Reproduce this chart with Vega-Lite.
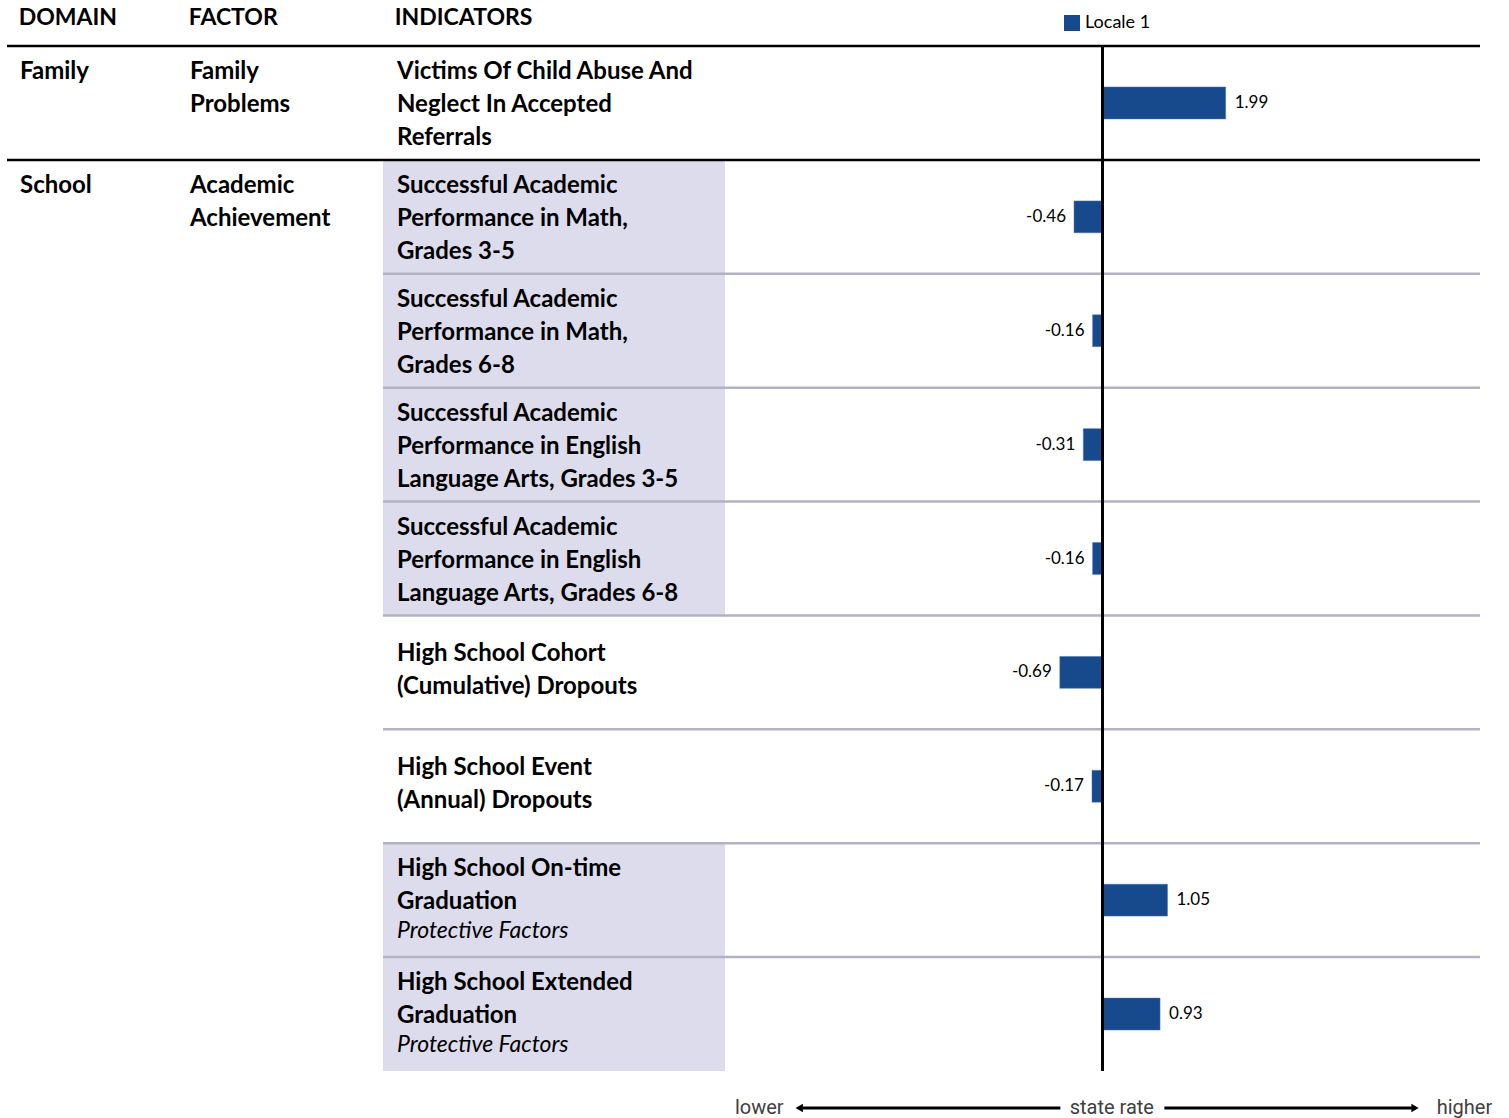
{
  "$schema": "https://vega.github.io/schema/vega-lite/v6.json",
  "padding": {"left": 5, "top": 6, "right": 0, "bottom": 0},
  "bounds": "flush",
  "config": {
    "view": {"stroke": null},
    "font": "Lato",
    "locale": {"number": {"decimal": ".", "thousands": ",", "grouping": [3], "currency": ["$", ""], "minus": "-"}},
    "title": {"fontSize": 23, "fontWeight": "bold", "font": "Lato", "anchor": "start", "color": "black", "baseline": "alphabetic", "offset": 15, "dx": 13}
  },
  "datasets": {
    "rows": [
      {"row": 1, "domain": "Family", "factor": "Family Problems", "indicator": ["Victims Of Child Abuse And", "Neglect In Accepted", "Referrals"], "note": null, "shade": false, "first": true, "value": 1.99, "series": "Locale 1"},
      {"row": 2, "domain": "School", "factor": "Academic Achievement", "indicator": ["Successful Academic", "Performance in Math,", "Grades 3-5"], "note": null, "shade": true, "first": true, "value": -0.46, "series": "Locale 1"},
      {"row": 3, "domain": "School", "factor": "Academic Achievement", "indicator": ["Successful Academic", "Performance in Math,", "Grades 6-8"], "note": null, "shade": true, "first": false, "value": -0.16, "series": "Locale 1"},
      {"row": 4, "domain": "School", "factor": "Academic Achievement", "indicator": ["Successful Academic", "Performance in English", "Language Arts, Grades 3-5"], "note": null, "shade": true, "first": false, "value": -0.31, "series": "Locale 1"},
      {"row": 5, "domain": "School", "factor": "Academic Achievement", "indicator": ["Successful Academic", "Performance in English", "Language Arts, Grades 6-8"], "note": null, "shade": true, "first": false, "value": -0.16, "series": "Locale 1"},
      {"row": 6, "domain": "School", "factor": "Academic Achievement", "indicator": ["High School Cohort", "(Cumulative) Dropouts"], "note": null, "shade": false, "first": false, "value": -0.69, "series": "Locale 1"},
      {"row": 7, "domain": "School", "factor": "Academic Achievement", "indicator": ["High School Event", "(Annual) Dropouts"], "note": null, "shade": false, "first": false, "value": -0.17, "series": "Locale 1"},
      {"row": 8, "domain": "School", "factor": "Academic Achievement", "indicator": ["High School On-time", "Graduation"], "note": "Protective Factors", "shade": true, "first": false, "value": 1.05, "series": "Locale 1"},
      {"row": 9, "domain": "School", "factor": "Academic Achievement", "indicator": ["High School Extended", "Graduation"], "note": "Protective Factors", "shade": true, "first": false, "value": 0.93, "series": "Locale 1"}
    ]
  },
  "spacing": 0,
  "hconcat": [
    {
      "width": 170, "height": 1025,
      "title": {"text": "DOMAIN"},
      "data": {"name": "rows"},
      "transform": [{"filter": "datum.first"}],
      "encoding": {
        "y": {"field": "row", "type": "ordinal", "axis": null, "bandPosition": 0, "scale": {"type": "band", "domain": [1,2,3,4,5,6,7,8,9], "paddingInner": 0, "paddingOuter": 0}},
        "x": {"datum": "col", "type": "nominal", "axis": null, "bandPosition": 0, "scale": {"type": "band", "paddingInner": 0, "paddingOuter": 0}}
      },
      "layer": [
        {"mark": {"type": "rule", "color": "black", "strokeWidth": 2.5}, "encoding": {"x": null}},
        {"mark": {"type": "text", "align": "left", "baseline": "middle", "dx": 13, "dy": 26, "fontSize": 24, "fontWeight": "bold", "lineHeight": 33, "color": "black"},
         "encoding": {"text": {"field": "domain"}}}
      ]
    },
    {
      "width": 206, "height": 1025,
      "title": {"text": "FACTOR"},
      "data": {"name": "rows"},
      "transform": [{"filter": "datum.first"}],
      "encoding": {
        "y": {"field": "row", "type": "ordinal", "axis": null, "bandPosition": 0, "scale": {"type": "band", "domain": [1,2,3,4,5,6,7,8,9], "paddingInner": 0, "paddingOuter": 0}},
        "x": {"datum": "col", "type": "nominal", "axis": null, "bandPosition": 0, "scale": {"type": "band", "paddingInner": 0, "paddingOuter": 0}}
      },
      "layer": [
        {"mark": {"type": "rule", "color": "black", "strokeWidth": 2.5}, "encoding": {"x": null}},
        {"mark": {"type": "text", "align": "left", "baseline": "middle", "dx": 13, "dy": 26, "fontSize": 24, "fontWeight": "bold", "lineHeight": 33, "lineBreak": " ", "color": "black"},
         "encoding": {"text": {"field": "factor"}}}
      ]
    },
    {
      "width": 342, "height": 1025,
      "title": {"text": "INDICATORS"},
      "data": {"name": "rows"},
      "encoding": {
        "y": {"field": "row", "type": "ordinal", "axis": null, "scale": {"type": "band", "domain": [1,2,3,4,5,6,7,8,9], "paddingInner": 0, "paddingOuter": 0}}
      },
      "layer": [
        {"transform": [{"filter": "datum.shade"}], "mark": {"type": "rect", "color": "#dddcec"}},
        {"mark": {"type": "rule", "strokeWidth": 2.5},
         "encoding": {
           "y": {"field": "row", "type": "ordinal", "bandPosition": 0},
           "color": {"condition": {"test": "datum.first", "value": "black"}, "value": "#b3b2c2"}
         }},
        {"transform": [{"filter": "length(datum.indicator) == 3 || datum.note"}],
         "mark": {"type": "text", "align": "left", "baseline": "middle", "dx": 14, "dy": -31, "fontSize": 24, "fontWeight": "bold", "lineHeight": 33, "color": "black"},
         "encoding": {
           "x": {"datum": "col", "type": "nominal", "axis": null, "bandPosition": 0, "scale": {"type": "band", "paddingInner": 0, "paddingOuter": 0}},
           "text": {"field": "indicator"}
         }},
        {"transform": [{"filter": "length(datum.indicator) == 2 && !datum.note"}],
         "mark": {"type": "text", "align": "left", "baseline": "middle", "dx": 14, "dy": -18.5, "fontSize": 24, "fontWeight": "bold", "lineHeight": 33, "color": "black"},
         "encoding": {
           "x": {"datum": "col", "type": "nominal", "bandPosition": 0},
           "text": {"field": "indicator"}
         }},
        {"transform": [{"filter": "datum.note"}],
         "mark": {"type": "text", "align": "left", "baseline": "middle", "dx": 14, "dy": 31, "fontSize": 23, "fontStyle": "italic", "color": "black"},
         "encoding": {
           "x": {"datum": "col", "type": "nominal", "bandPosition": 0},
           "text": {"field": "note"}
         }}
      ]
    },
    {
      "spacing": 0,
      "vconcat": [
        {
          "width": 755, "height": 1025,
          "data": {"name": "rows"},
          "encoding": {
            "y": {"field": "row", "type": "ordinal", "axis": null, "scale": {"type": "band", "domain": [1,2,3,4,5,6,7,8,9], "paddingInner": 0, "paddingOuter": 0}}
          },
          "layer": [
            {"mark": {"type": "rule", "strokeWidth": 2.5},
             "encoding": {
               "y": {"field": "row", "type": "ordinal", "bandPosition": 0},
               "color": {"condition": {"test": "datum.first", "value": "black"}, "value": "#b3b2c2"}
             }},
            {"mark": {"type": "bar", "height": {"band": 0.28}, "stroke": "#4a72b0", "strokeWidth": 0.5},
             "encoding": {
               "x": {"field": "value", "type": "quantitative", "axis": null, "scale": {"domain": [-6.1, 6.1], "nice": false}},
               "color": {"field": "series", "type": "nominal", "scale": {"range": ["#174a8c"]},
                 "legend": {"title": null, "orient": "none", "legendX": 1056, "legendY": -32, "symbolType": "square", "symbolSize": 256, "symbolStrokeWidth": 0, "labelFontSize": 18, "labelFont": "Lato", "labelColor": "black", "labelOffset": 4}}
             }},
            {"mark": {"type": "rule", "color": "black", "strokeWidth": 2.5},
             "encoding": {"x": {"datum": 0, "type": "quantitative"}, "y": null}},
            {"transform": [{"filter": "datum.value > 0"}],
             "mark": {"type": "text", "align": "left", "baseline": "middle", "dx": 9, "fontSize": 17, "color": "black"},
             "encoding": {"x": {"field": "value", "type": "quantitative"}, "text": {"field": "value", "format": ".2f"}}},
            {"transform": [{"filter": "datum.value < 0"}],
             "mark": {"type": "text", "align": "right", "baseline": "middle", "dx": -8, "fontSize": 17, "color": "black"},
             "encoding": {"x": {"field": "value", "type": "quantitative"}, "text": {"field": "value", "format": ".2f"}}}
          ]
        },
        {
          "width": 755, "height": 70,
          "data": {"values": [{"note": "scale"}]},
          "layer": [
            {"mark": {"type": "rule", "color": "black", "strokeWidth": 3},
             "encoding": {"x": {"datum": -4.85, "type": "quantitative", "axis": null, "scale": {"domain": [-6.1, 6.1], "nice": false}}, "x2": {"datum": -0.68}}},
            {"mark": {"type": "rule", "color": "black", "strokeWidth": 3},
             "encoding": {"x": {"datum": 1.0, "type": "quantitative"}, "x2": {"datum": 5.0}}},
            {"mark": {"type": "point", "shape": "triangle-left", "filled": true, "color": "black", "size": 70, "opacity": 1},
             "encoding": {"x": {"datum": -4.9, "type": "quantitative"}}},
            {"mark": {"type": "point", "shape": "triangle-right", "filled": true, "color": "black", "size": 70, "opacity": 1},
             "encoding": {"x": {"datum": 5.05, "type": "quantitative"}}},
            {"mark": {"type": "text", "align": "left", "baseline": "middle", "fontSize": 20, "font": "Roboto", "color": "#404040"},
             "encoding": {"x": {"datum": -5.94, "type": "quantitative"}, "text": {"value": "lower"}}},
            {"mark": {"type": "text", "align": "center", "baseline": "middle", "fontSize": 20, "font": "Roboto", "color": "#404040"},
             "encoding": {"x": {"datum": 0.15, "type": "quantitative"}, "text": {"value": "state rate"}}},
            {"mark": {"type": "text", "align": "left", "baseline": "middle", "fontSize": 20, "font": "Roboto", "color": "#404040"},
             "encoding": {"x": {"datum": 5.4, "type": "quantitative"}, "text": {"value": "higher"}}}
          ]
        }
      ]
    }
  ]
}
